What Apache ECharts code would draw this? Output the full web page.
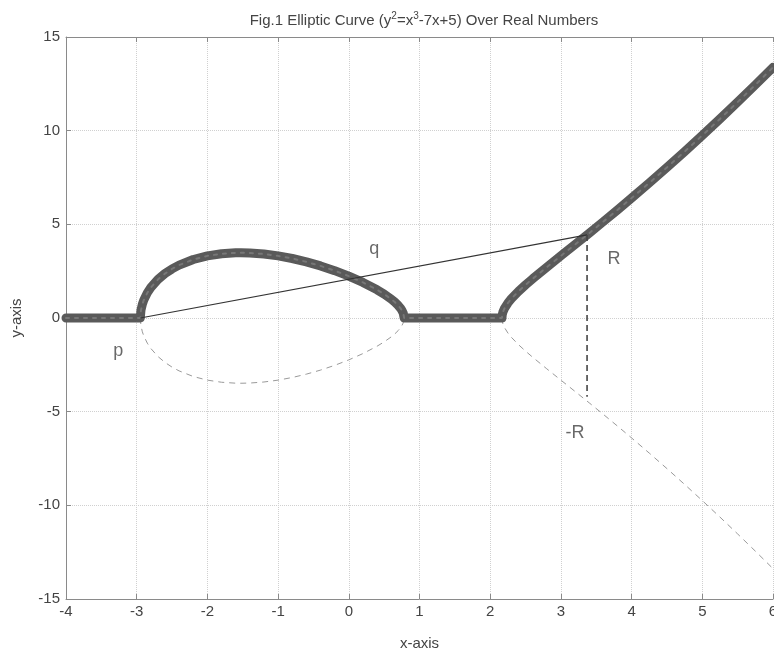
<!DOCTYPE html>
<html><head><meta charset="utf-8">
<script src="https://cdn.jsdelivr.net/npm/echarts@6/dist/echarts.min.js"></script>
<style>html,body{margin:0;padding:0;background:#fff}#c{width:774px;height:657px}</style>
</head><body><div id="c"></div>
<script>
// Tick labels
const xTicks = [-4,-3,-2,-1,0,1,2,3,4,5,6];
const yTicks = [-15,-10,-5,0,5,10,15];
// Upper branch (MATLAB real part; zero where no real root)
const upperX = [-4,-2.949,-2.94,-2.92,-2.9,-2.85,-2.8,-2.7,-2.6,-2.5,-2.4,-2.2,-2.0,-1.8,-1.6,-1.527,-1.4,-1.2,-1.0,-0.8,-0.6,-0.4,-0.2,0,0.2,0.4,0.5,0.6,0.65,0.7,0.73,0.75,0.77,0.783,2.166,2.17,2.18,2.2,2.25,2.3,2.4,2.5,2.6,2.8,3.0,3.2,3.4,3.6,3.8,4.0,4.25,4.5,4.75,5.0,5.25,5.5,5.75,6.0];
const upperY = [0,0,0.41,0.737,0.954,1.342,1.627,2.054,2.372,2.622,2.824,3.123,3.317,3.430,3.479,3.483,3.472,3.416,3.317,3.176,2.997,2.781,2.528,2.236,1.899,1.505,1.275,1.008,0.851,0.666,0.528,0.415,0.258,0,0,0.168,0.316,0.498,0.800,1.033,1.423,1.768,2.092,2.711,3.317,3.920,4.528,5.144,5.768,6.403,7.212,8.039,8.884,9.747,10.628,11.527,12.444,13.379];
// Lower branch left loop (dashed)
const lowLeftX = [-2.949,-2.94,-2.92,-2.9,-2.85,-2.8,-2.7,-2.6,-2.5,-2.4,-2.2,-2.0,-1.8,-1.6,-1.527,-1.4,-1.2,-1.0,-0.8,-0.6,-0.4,-0.2,0,0.2,0.4,0.5,0.6,0.65,0.7,0.73,0.75,0.77,0.783];
const lowLeftY = [0,-0.41,-0.737,-0.954,-1.342,-1.627,-2.054,-2.372,-2.622,-2.824,-3.123,-3.317,-3.430,-3.479,-3.483,-3.472,-3.416,-3.317,-3.176,-2.997,-2.781,-2.528,-2.236,-1.899,-1.505,-1.275,-1.008,-0.851,-0.666,-0.528,-0.415,-0.258,0];
// Lower branch right (dashed)
const lowRightX = [2.166,2.17,2.18,2.2,2.25,2.3,2.4,2.5,2.6,2.8,3.0,3.2,3.4,3.6,3.8,4.0,4.25,4.5,4.75,5.0,5.25,5.5,5.75,6.0];
const lowRightY = [0,-0.168,-0.316,-0.498,-0.800,-1.033,-1.423,-1.768,-2.092,-2.711,-3.317,-3.920,-4.528,-5.144,-5.768,-6.403,-7.212,-8.039,-8.884,-9.747,-10.628,-11.527,-12.444,-13.379];
// Secant P -> R, and vertical R -> -R
const secantX = [-2.949, 3.37];
const secantY = [0, 4.437];
const vertX = [3.37, 3.37];
const vertY = [4.437, -4.2];
// Annotations
const labelNames = ['p','q','R','-R'];
const labelX = [-3.26, 0.36, 3.75, 3.2];
const labelY = [-1.76, 3.68, 3.15, -6.14];

const zip = (a,b) => a.map((v,i)=>[v,b[i]]);
const FONT = 'Liberation Sans, Arial, sans-serif';
const chart = echarts.init(document.getElementById('c'), null, {renderer:'canvas'});
const axisCol = '#8a8a8a';
chart.setOption({
  animation:false,
  backgroundColor:'#fff',
  title:{text:'{a|Fig.1 Elliptic Curve (y}{s|2}{a|=x}{s|3}{a|-7x+5) Over Real Numbers}',left:419,top:6,textAlign:'center',
    textStyle:{fontFamily:FONT,fontSize:15,fontWeight:'normal',color:'#444',
      rich:{a:{fontFamily:FONT,fontSize:15,color:'#444',lineHeight:20},
            s:{fontFamily:FONT,fontSize:10,color:'#444',verticalAlign:'top',lineHeight:20}}}},
  grid:{left:66,right:1,top:37,bottom:58,containLabel:false,outerBoundsMode:'none'},
  xAxis:[{type:'value',min:-4,max:6,interval:1,name:'x-axis',nameLocation:'middle',nameGap:37,
    nameTextStyle:{fontFamily:FONT,fontSize:15,color:'#444'},
    axisLine:{show:true,onZero:false,lineStyle:{color:axisCol,width:1}},
    axisTick:{show:true,inside:true,length:5,lineStyle:{color:axisCol}},
    axisLabel:{fontFamily:FONT,fontSize:15,color:'#444',margin:5,formatter:v=>xTicks.includes(v)?String(v):''},
    splitLine:{show:true,lineStyle:{type:'dotted',color:'#d0d0d0',width:1}}},
   {type:'value',position:'top',min:-4,max:6,interval:1,
    axisLine:{show:true,onZero:false,lineStyle:{color:axisCol,width:1}},
    axisTick:{show:true,inside:true,length:5,lineStyle:{color:axisCol}},
    axisLabel:{show:false},splitLine:{show:false}}],
  yAxis:[{type:'value',min:-15,max:15,interval:5,name:'y-axis',nameLocation:'middle',nameGap:42,nameRotate:90,
    nameTextStyle:{fontFamily:FONT,fontSize:15,color:'#444'},
    axisLine:{show:true,onZero:false,lineStyle:{color:axisCol,width:1}},
    axisTick:{show:true,inside:true,length:5,lineStyle:{color:axisCol}},
    axisLabel:{fontFamily:FONT,fontSize:15,color:'#444',margin:6,formatter:v=>yTicks.includes(v)?String(v):''},
    splitLine:{show:true,lineStyle:{type:'dotted',color:'#d0d0d0',width:1}}}],
  series:[
    {type:'line',data:zip(lowLeftX,lowLeftY),showSymbol:false,symbol:'none',
     lineStyle:{color:'#9a9a9a',width:1,type:[6,5]},z:2},
    {type:'line',data:zip(lowRightX,lowRightY),showSymbol:false,symbol:'none',
     lineStyle:{color:'#9a9a9a',width:1,type:[6,5]},z:2},
    {type:'line',data:zip(upperX,upperY),showSymbol:false,symbol:'none',
     lineStyle:{color:'#5a5a5a',width:9,cap:'round',join:'round'},z:3},
    {type:'line',data:zip(upperX,upperY),showSymbol:false,symbol:'none',
     lineStyle:{color:'#777',width:2,type:[3,6],cap:'round'},z:4},
    {type:'line',data:zip(secantX,secantY),showSymbol:false,symbol:'none',
     lineStyle:{color:'#333',width:1.2},z:5},
    {type:'line',data:zip(vertX,vertY),showSymbol:false,symbol:'none',
     lineStyle:{color:'#444',width:1.6,type:[6,4]},z:5},
    {type:'scatter',symbolSize:0,z:6,
     data:labelNames.map((n,i)=>({name:n,value:[labelX[i],labelY[i]]})),
     label:{show:true,position:'inside',formatter:'{b}',fontFamily:FONT,fontSize:18,color:'#444'}}
  ]
});
</script></body></html>
